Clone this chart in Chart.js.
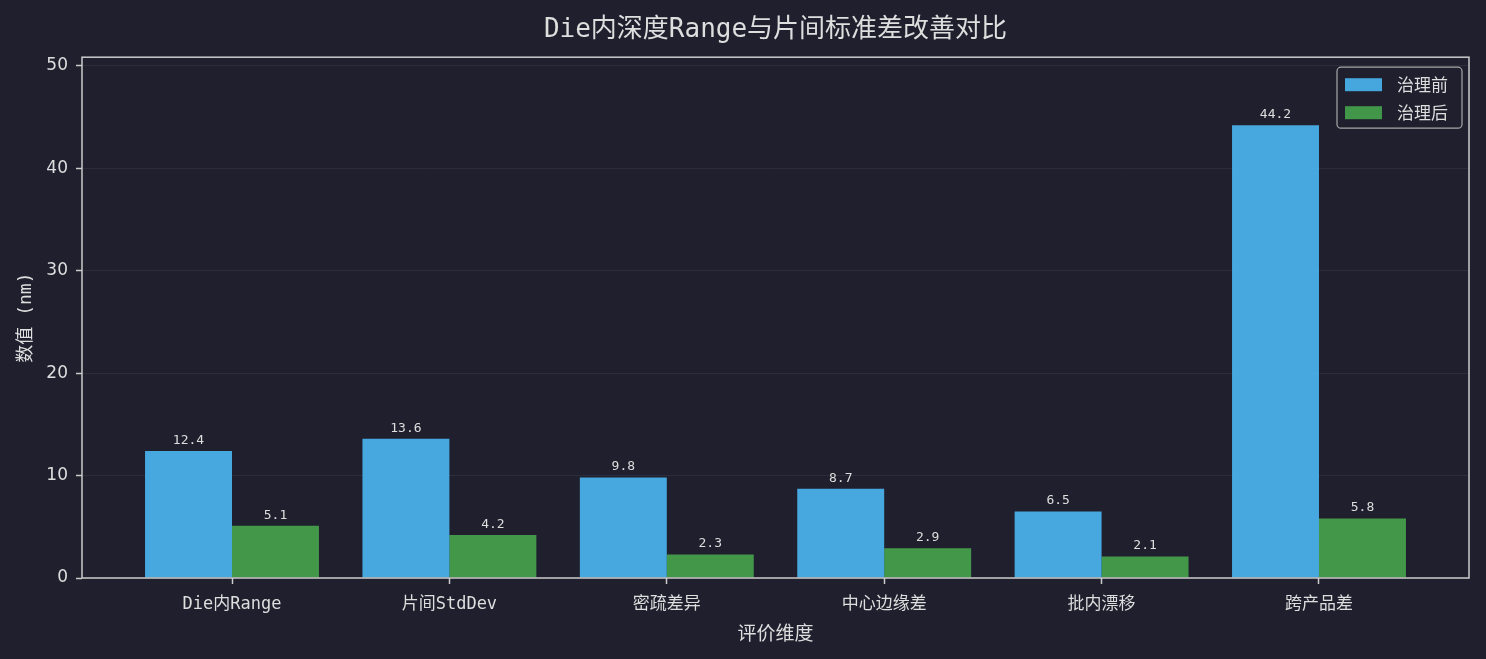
<!DOCTYPE html>
<html>
<head>
<meta charset="utf-8">
<script src="https://cdn.jsdelivr.net/npm/chart.js@4.4.1/dist/chart.umd.min.js"></script>
<style>
html,body{margin:0;padding:0;background:#1f1f2e;}
#wrap{width:1486px;height:659px;position:relative;}
</style>
</head>
<body>
<div id="wrap"><canvas id="c" width="1486" height="659"></canvas></div>
<script>
const categories = ["Die内Range", "片间StdDev", "密疏差异", "中心边缘差", "批内漂移", "跨产品差"];
const seriesNames = ["治理前", "治理后"];
const beforeValues = [12.4, 13.6, 9.8, 8.7, 6.5, 44.2];
const afterValues = [5.1, 4.2, 2.3, 2.9, 2.1, 5.8];
const yTicks = [0, 10, 20, 30, 40, 50];
const yMax = 50.83;

const MONO = '"DejaVu Sans Mono", "Noto Sans CJK SC", sans-serif';
const TEXT = '#dedede';
const FRAME = '#cccccc';

const valueLabels = {
  id: 'valueLabels',
  afterDatasetsDraw(chart) {
    const ctx = chart.ctx;
    ctx.save();
    ctx.font = '13px ' + MONO;
    ctx.fillStyle = TEXT;
    ctx.textAlign = 'center';
    ctx.textBaseline = 'bottom';
    chart.data.datasets.forEach((ds, di) => {
      chart.getDatasetMeta(di).data.forEach((bar, i) => {
        ctx.fillText(ds.data[i].y.toFixed(1), bar.x, bar.y - 4);
      });
    });
    ctx.restore();
  }
};

const frame = {
  id: 'frame',
  afterDatasetsDraw(chart) {
    const a = chart.chartArea, ctx = chart.ctx;
    ctx.save();
    ctx.strokeStyle = FRAME;
    ctx.lineWidth = 1.5;
    ctx.strokeRect(a.left, a.top, a.right - a.left, a.bottom - a.top);
    ctx.restore();
  }
};

const innerLegend = {
  id: 'innerLegend',
  afterDraw(chart) {
    const ctx = chart.ctx, a = chart.chartArea;
    const bx = a.right - 132, by = a.top + 10, bw = 125, bh = 61;
    ctx.save();
    ctx.fillStyle = 'rgba(31,31,46,0.8)';
    ctx.strokeStyle = '#a8a8a8';
    ctx.lineWidth = 1.2;
    ctx.beginPath();
    ctx.roundRect(bx, by, bw, bh, 4);
    ctx.fill();
    ctx.stroke();
    ctx.font = '17px "Noto Sans CJK SC", sans-serif';
    ctx.textBaseline = 'middle';
    ctx.textAlign = 'left';
    chart.data.datasets.forEach((ds, i) => {
      const y = by + 17 + i * 28;
      ctx.fillStyle = ds.backgroundColor;
      ctx.fillRect(bx + 8, y - 6, 37, 13);
      ctx.fillStyle = TEXT;
      ctx.fillText(ds.label, bx + 60, y);
    });
    ctx.restore();
  }
};

new Chart(document.getElementById('c'), {
  type: 'bar',
  data: {
    datasets: [
      { label: seriesNames[0], data: beforeValues.map((v, i) => ({ x: i, y: v })), backgroundColor: 'rgba(74,183,242,0.9)', borderWidth: 0 },
      { label: seriesNames[1], data: afterValues.map((v, i) => ({ x: i, y: v })), backgroundColor: 'rgba(71,164,77,0.9)', borderWidth: 0 }
    ]
  },
  options: {
    responsive: false,
    animation: false,
    devicePixelRatio: 1,
    categoryPercentage: 0.8,
    barPercentage: 1.0,
    layout: { padding: { left: 0, right: 17, top: 0, bottom: 0 } },
    plugins: {
      legend: { display: false },
      tooltip: { enabled: false },
      title: {
        display: true,
        fullSize: false,
        text: 'Die内深度Range与片间标准差改善对比',
        color: TEXT,
        font: { family: MONO, size: 26, weight: 'normal' },
        padding: { top: 15, bottom: 11 }
      }
    },
    scales: {
      x: {
        type: 'linear',
        offset: false,
        min: -0.69,
        max: 5.69,
        afterBuildTicks(scale) { scale.ticks = categories.map((_, i) => ({ value: i })); },
        afterFit(scale) { scale.height = 81; },
        ticks: {
          color: TEXT,
          font: { family: MONO, size: 17 },
          padding: 10,
          autoSkip: false,
          maxRotation: 0,
          callback: (v) => categories[v]
        },
        grid: { offset: false, drawOnChartArea: false, drawTicks: true, tickLength: 6, tickColor: FRAME, tickWidth: 1.5 },
        border: { display: false },
        title: {
          display: true,
          text: '评价维度',
          color: TEXT,
          font: { family: '"Noto Sans CJK SC", sans-serif', size: 19 },
          padding: { top: 0, bottom: 15 }
        }
      },
      y: {
        min: 0,
        max: yMax,
        afterBuildTicks(scale) { scale.ticks = yTicks.map(v => ({ value: v })); },
        afterFit(scale) { scale.width = 82; },
        ticks: {
          color: TEXT,
          font: { family: '"DejaVu Sans", sans-serif', size: 17 },
          padding: 8
        },
        grid: { color: 'rgba(255,255,255,0.06)', lineWidth: 1, tickLength: 6, tickColor: FRAME, tickWidth: 1.5 },
        border: { display: false },
        title: {
          display: true,
          text: '数值 (nm)',
          color: TEXT,
          font: { family: MONO, size: 18 },
          padding: { top: 16, bottom: 0 }
        }
      }
    }
  },
  plugins: [valueLabels, frame, innerLegend]
});
</script>
</body>
</html>
